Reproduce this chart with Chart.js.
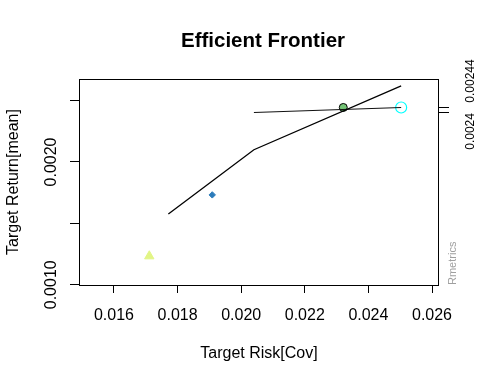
<!DOCTYPE html>
<html>
<head>
<meta charset="utf-8">
<script src="https://cdn.jsdelivr.net/npm/chart.js@4"></script>
<style>
  html, body { margin: 0; padding: 0; background: #fff; }
  #wrap { width: 480px; height: 384px; }
</style>
</head>
<body>
<div id="wrap"><canvas id="frontier" width="480" height="384"></canvas></div>
<script>
// values
const frontierRisk = [0.01771, 0.02040, 0.02503];
const frontierReturn = [0.001577, 0.002100, 0.002620];
const cmlRisk = [0.02040, 0.02503];
const cmlReturn = [0.002403, 0.002444];
const tangencyPoint = [0.02321, 0.002444];
const cyanPoint = [0.02503, 0.002444];
const diamondPoint = [0.01909, 0.001732];
const trianglePoint = [0.01711, 0.001233];

const xTicks = [0.016, 0.018, 0.020, 0.022, 0.024, 0.026];
const xTickLabels = ["0.016", "0.018", "0.020", "0.022", "0.024", "0.026"];
const yTicks = [0.0010, 0.0015, 0.0020, 0.0025];
const yTickLabels = ["0.0010", "", "0.0020", ""];
const rightTicks = [0.0024, 0.00244];
const rightTickLabels = ["0.0024", "0.00244"];

const FONT = "'Liberation Sans', Arial, sans-serif";
Chart.defaults.font.family = FONT;
Chart.defaults.color = "#000";

function toXY(xs, ys) {
  return xs.map((x, i) => ({ x: x, y: ys[i] }));
}

// title over the plot region, box, rotated tick labels and the small side texts
const rDecor = {
  id: "rDecor",
  afterDraw(chart) {
    const ctx = chart.ctx;
    const a = chart.chartArea;
    const y = chart.scales.y;
    ctx.save();

    ctx.fillStyle = "#000";
    ctx.font = "bold 20.5px " + FONT;
    ctx.textAlign = "center";
    ctx.textBaseline = "middle";
    ctx.fillText("Efficient Frontier", (a.left + a.right) / 2 + 4, 41.5);

    ctx.strokeStyle = "#000";
    ctx.lineWidth = 1;
    ctx.strokeRect(Math.round(a.left) + 0.5, Math.round(a.top) + 0.5,
      Math.round(a.right - a.left) - 1, Math.round(a.bottom - a.top));

    ctx.font = "16px " + FONT;
    ctx.textBaseline = "alphabetic";
    yTicks.forEach((v, i) => {
      if (!yTickLabels[i]) return;
      ctx.save();
      ctx.translate(a.left - 23.5, y.getPixelForValue(v));
      ctx.rotate(-Math.PI / 2);
      ctx.fillText(yTickLabels[i], 0, 0);
      ctx.restore();
    });

    // R staggers these two crowded labels
    const shift = [18.5, -27];
    ctx.font = "12px " + FONT;
    rightTicks.forEach((v, i) => {
      ctx.save();
      ctx.translate(a.right + 35, y.getPixelForValue(v) + shift[i]);
      ctx.rotate(-Math.PI / 2);
      ctx.fillText(rightTickLabels[i], 0, 0);
      ctx.restore();
    });

    ctx.fillStyle = "#a0a0a0";
    ctx.font = "11px " + FONT;
    ctx.textAlign = "left";
    ctx.save();
    ctx.translate(a.right + 16.5, a.bottom);
    ctx.rotate(-Math.PI / 2);
    ctx.fillText("Rmetrics", 0, 0);
    ctx.restore();
    ctx.restore();
  }
};

new Chart(document.getElementById("frontier").getContext("2d"), {
  type: "scatter",
  data: {
    datasets: [
      {
        data: toXY(frontierRisk, frontierReturn),
        showLine: true,
        borderColor: "#000",
        borderWidth: 1.3,
        pointRadius: 0,
      },
      {
        data: toXY(cmlRisk, cmlReturn),
        showLine: true,
        borderColor: "#111",
        borderWidth: 1.2,
        pointRadius: 0,
      },
      {
        data: [{ x: tangencyPoint[0], y: tangencyPoint[1] }],
        pointStyle: "circle",
        pointRadius: 4,
        backgroundColor: "#74c476",
        borderColor: "#000",
        borderWidth: 1,
      },
      {
        data: [{ x: cyanPoint[0], y: cyanPoint[1] }],
        pointStyle: "circle",
        pointRadius: 5.5,
        backgroundColor: "rgba(0,0,0,0)",
        borderColor: "#00ffff",
        borderWidth: 1.2,
      },
      {
        data: [{ x: diamondPoint[0], y: diamondPoint[1] }],
        pointStyle: "rectRot",
        pointRadius: 3.2,
        backgroundColor: "#2b7bba",
        borderColor: "#2b7bba",
        borderWidth: 1,
      },
      {
        data: [{ x: trianglePoint[0], y: trianglePoint[1] }],
        pointStyle: "triangle",
        pointRadius: 5.4,
        backgroundColor: "#e2f586",
        borderColor: "#e2f586",
        borderWidth: 1,
      },
    ],
  },
  options: {
    responsive: false,
    animation: false,
    devicePixelRatio: 1,
    layout: { padding: { top: 79, left: 0, right: 0, bottom: 0 } },
    plugins: {
      legend: { display: false },
      tooltip: { enabled: false },
      title: { display: false },
    },
    scales: {
      x: {
        type: "linear",
        min: 0.0149,
        max: 0.02622,
        afterBuildTicks: (s) => { s.ticks = xTicks.map((v) => ({ value: v })); },
        afterFit: (s) => { s.height = 99; },
        ticks: {
          padding: 13,
          font: { size: 16 },
          color: "#000",
          maxRotation: 0,
          autoSkip: false,
          callback: (v) => xTickLabels[xTicks.indexOf(v)] ?? "",
        },
        grid: { drawOnChartArea: false, tickLength: 8, color: "#000" },
        border: { display: false },
        title: {
          display: true,
          text: "Target Risk[Cov]",
          font: { size: 16 },
          color: "#000",
          padding: { top: 0, bottom: 20.5 },
        },
      },
      y: {
        type: "linear",
        position: "left",
        min: 0.000998,
        max: 0.002676,
        afterBuildTicks: (s) => { s.ticks = yTicks.map((v) => ({ value: v })); },
        afterFit: (s) => { s.width = 79; },
        ticks: { display: false },
        grid: { drawOnChartArea: false, tickLength: 9, color: "#000" },
        border: { display: false },
        title: {
          display: true,
          text: "Target Return[mean]",
          font: { size: 16 },
          color: "#000",
          padding: { top: 3.5, bottom: 0 },
        },
      },
      y2: {
        type: "linear",
        position: "right",
        min: 0.000998,
        max: 0.002676,
        afterBuildTicks: (s) => { s.ticks = rightTicks.map((v) => ({ value: v })); },
        afterFit: (s) => { s.width = 41; },
        ticks: { display: false },
        grid: { drawOnChartArea: false, tickLength: 10, color: "#000" },
        border: { display: false },
      },
    },
  },
  plugins: [rDecor],
});
</script>
</body>
</html>
